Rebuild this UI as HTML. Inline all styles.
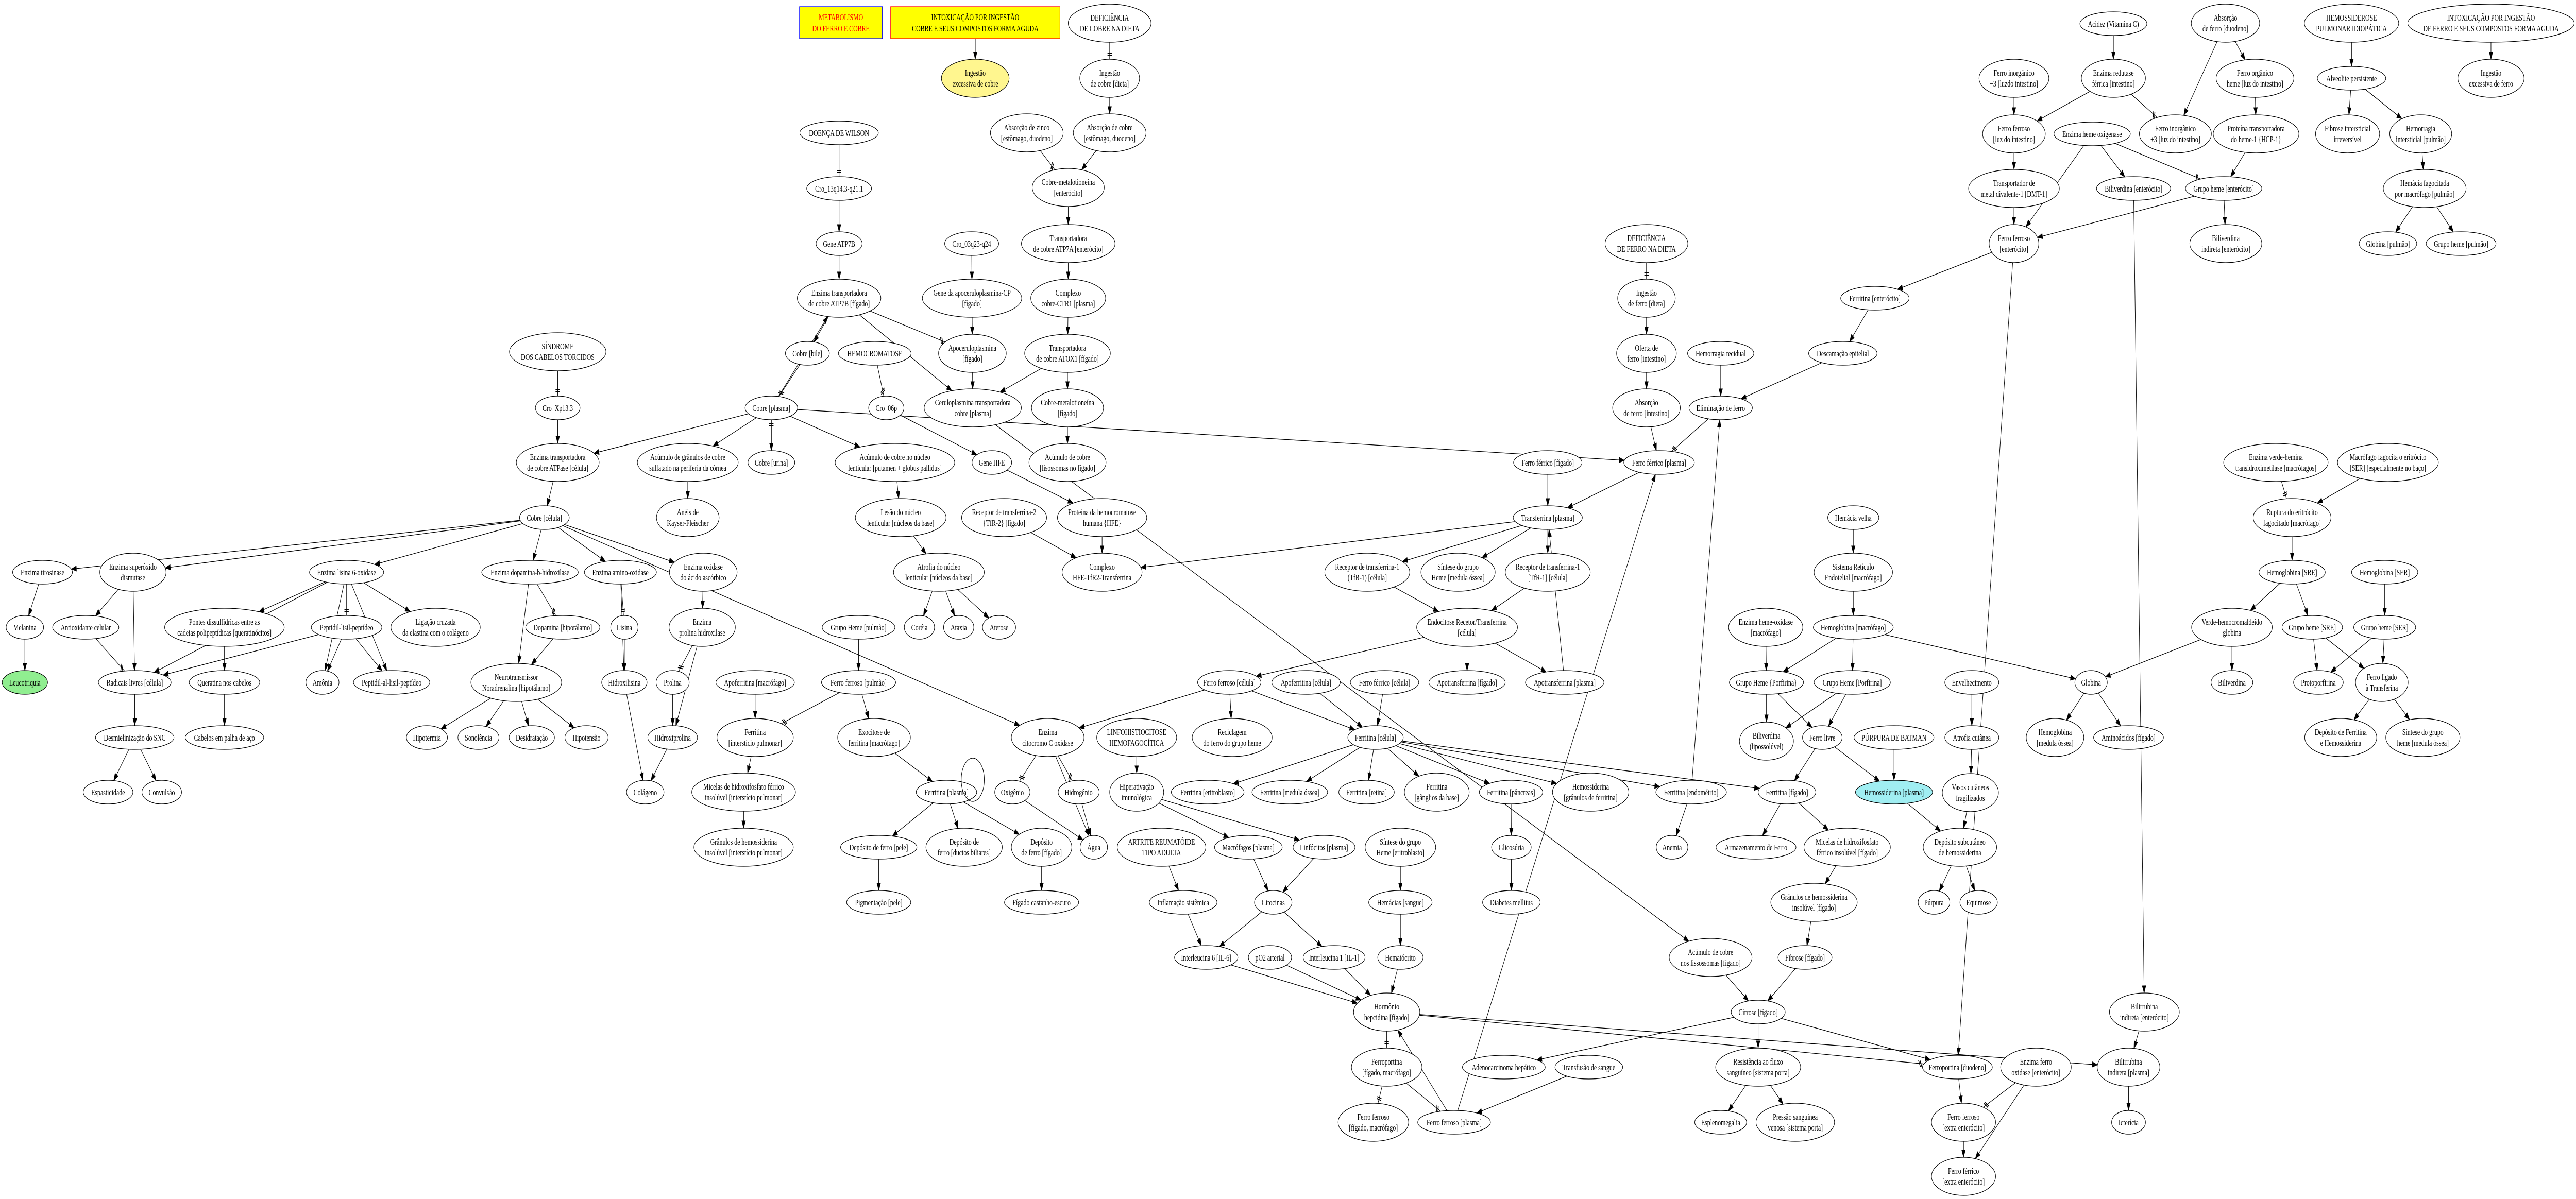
<!DOCTYPE html>
<html><head><meta charset="utf-8">
<style>
html,body{margin:0;padding:0;background:#fff;overflow:hidden;width:100%;height:100%;}
svg{display:block;width:100vw;height:100vh;}
text{font-family:"Liberation Serif","DejaVu Serif",serif;font-size:17px;fill:#000;text-anchor:middle;}
ellipse{fill:#fff;stroke:#000;stroke-width:1.3;}
</style></head>
<body>
<svg id="s" viewBox="0 0 7150 2328" preserveAspectRatio="none" xmlns="http://www.w3.org/2000/svg">
<rect width="7150" height="2328" fill="#fff"/>
<g id="edges"></g>
<g id="nodes">
<rect x="2219" y="13" width="230" height="62" fill="#ffff00" stroke="#0000ff" stroke-width="1.3"/>
<text x="2334" y="39" style="fill:#ff0000">METABOLISMO</text><text x="2334" y="61" style="fill:#ff0000">DO FERRO E COBRE</text>
<rect x="2472" y="13" width="470" height="62" fill="#ffff00" stroke="#ff0000" stroke-width="1.3"/>
<text x="2707" y="39">INTOXICAÇÃO POR INGESTÃO</text><text x="2707" y="61">COBRE E SEUS COMPOSTOS FORMA AGUDA</text>

<g id="sind"><ellipse cx="1548" cy="683" rx="134" ry="37"/><text x="1548" y="678">SÍNDROME</text><text x="1548" y="699">DOS CABELOS TORCIDOS</text></g>
<g id="xp"><ellipse cx="1548" cy="792" rx="62" ry="23"/><text x="1548" y="798">Cro_Xp13.3</text></g>
<g id="atpc"><ellipse cx="1548" cy="898" rx="115" ry="37"/><text x="1548" y="893">Enzima transportadora</text><text x="1548" y="914">de cobre ATPase [célula]</text></g>
<g id="cc"><ellipse cx="1511" cy="1005" rx="69" ry="23"/><text x="1511" y="1011">Cobre [célula]</text></g>
<g id="tir"><ellipse cx="118" cy="1111" rx="83" ry="23"/><text x="118" y="1117">Enzima tirosinase</text></g>
<g id="sod"><ellipse cx="369" cy="1111" rx="92" ry="37"/><text x="369" y="1106">Enzima superóxido</text><text x="369" y="1127">dismutase</text></g>
<g id="lis6"><ellipse cx="962" cy="1111" rx="103" ry="23"/><text x="962" y="1117">Enzima lisina 6-oxidase</text></g>
<g id="dbh"><ellipse cx="1471" cy="1111" rx="134" ry="23"/><text x="1471" y="1117">Enzima dopamina-b-hidroxilase</text></g>
<g id="amo"><ellipse cx="1722" cy="1111" rx="100" ry="23"/><text x="1722" y="1117">Enzima amino-oxidase</text></g>

<g id="defc"><ellipse cx="3080" cy="45" rx="115" ry="37"/><text x="3080" y="40">DEFICIÊNCIA</text><text x="3080" y="61">DE COBRE NA DIETA</text></g>
<g id="iec"><ellipse cx="2707" cy="152" rx="94" ry="37" style="fill:#fff68f"/><text x="2707" y="147">Ingestão</text><text x="2707" y="168">excessiva de cobre</text></g>
<g id="ic"><ellipse cx="3080" cy="152" rx="83" ry="37"/><text x="3080" y="147">Ingestão</text><text x="3080" y="168">de cobre [dieta]</text></g>
<g id="wil"><ellipse cx="2329" cy="258" rx="109" ry="23"/><text x="2329" y="264">DOENÇA DE WILSON</text></g>
<g id="absz"><ellipse cx="2850" cy="258" rx="101" ry="37"/><text x="2850" y="253">Absorção de zinco</text><text x="2850" y="274">[estômago, duodeno]</text></g>
<g id="absc"><ellipse cx="3080" cy="258" rx="101" ry="37"/><text x="3080" y="253">Absorção de cobre</text><text x="3080" y="274">[estômago, duodeno]</text></g>
<g id="c13"><ellipse cx="2329" cy="366" rx="90" ry="23"/><text x="2329" y="372">Cro_13q14.3-q21.1</text></g>
<g id="cumt"><ellipse cx="2965" cy="364" rx="100" ry="37"/><text x="2965" y="359">Cobre-metalotioneína</text><text x="2965" y="380">[enterócito]</text></g>
<g id="atpg"><ellipse cx="2329" cy="473" rx="64" ry="23"/><text x="2329" y="479">Gene ATP7B</text></g>
<g id="c03"><ellipse cx="2697" cy="473" rx="75" ry="23"/><text x="2697" y="479">Cro_03q23-q24</text></g>
<g id="atp7a"><ellipse cx="2965" cy="473" rx="130" ry="37"/><text x="2965" y="468">Transportadora</text><text x="2965" y="489">de cobre ATP7A [enterócito]</text></g>
<g id="atp7b"><ellipse cx="2329" cy="579" rx="116" ry="37"/><text x="2329" y="574">Enzima transportadora</text><text x="2329" y="595">de cobre ATP7B [fígado]</text></g>
<g id="gcp"><ellipse cx="2698" cy="579" rx="138" ry="37"/><text x="2698" y="574">Gene da apoceruloplasmina-CP</text><text x="2698" y="595">[fígado]</text></g>
<g id="ctr1"><ellipse cx="2965" cy="579" rx="104" ry="37"/><text x="2965" y="574">Complexo</text><text x="2965" y="595">cobre-CTR1 [plasma]</text></g>
<g id="cbile"><ellipse cx="2241" cy="686" rx="61" ry="23"/><text x="2241" y="692">Cobre [bile]</text></g>
<g id="hemo"><ellipse cx="2428" cy="686" rx="101" ry="23"/><text x="2428" y="692">HEMOCROMATOSE</text></g>
<g id="apoc"><ellipse cx="2699" cy="686" rx="94" ry="37"/><text x="2699" y="681">Apoceruloplasmina</text><text x="2699" y="702">[fígado]</text></g>
<g id="atox"><ellipse cx="2963" cy="686" rx="119" ry="37"/><text x="2963" y="681">Transportadora</text><text x="2963" y="702">de cobre ATOX1 [fígado]</text></g>
<g id="cpl"><ellipse cx="2141" cy="792" rx="73" ry="23"/><text x="2141" y="798">Cobre [plasma]</text></g>
<g id="c06"><ellipse cx="2460" cy="792" rx="49" ry="23"/><text x="2460" y="798">Cro_06p</text></g>
<g id="cer"><ellipse cx="2700" cy="792" rx="135" ry="37"/><text x="2700" y="787">Ceruloplasmina transportadora</text><text x="2700" y="808">cobre [plasma]</text></g>
<g id="cumtf"><ellipse cx="2963" cy="792" rx="100" ry="37"/><text x="2963" y="787">Cobre-metalotioneína</text><text x="2963" y="808">[fígado]</text></g>
<g id="corn"><ellipse cx="1909" cy="898" rx="140" ry="37"/><text x="1909" y="893">Acúmulo de grânulos de cobre</text><text x="1909" y="914">sulfatado na periferia da córnea</text></g>
<g id="cur"><ellipse cx="2141" cy="898" rx="65" ry="23"/><text x="2141" y="904">Cobre [urina]</text></g>
<g id="alent"><ellipse cx="2484" cy="898" rx="166" ry="37"/><text x="2484" y="893">Acúmulo de cobre no núcleo</text><text x="2484" y="914">lenticular [putamen + globus pallidus]</text></g>
<g id="hfe"><ellipse cx="2753" cy="898" rx="55" ry="23"/><text x="2753" y="904">Gene HFE</text></g>
<g id="aliso"><ellipse cx="2963" cy="898" rx="107" ry="37"/><text x="2963" y="893">Acúmulo de cobre</text><text x="2963" y="914">[lisossomas no fígado]</text></g>
<g id="kf"><ellipse cx="1909" cy="1005" rx="87" ry="37"/><text x="1909" y="1000">Anéis de</text><text x="1909" y="1021">Kayser-Fleischer</text></g>
<g id="lesao"><ellipse cx="2500" cy="1005" rx="126" ry="37"/><text x="2500" y="1000">Lesão do núcleo</text><text x="2500" y="1021">lenticular [núcleos da base]</text></g>
<g id="tfr2"><ellipse cx="2787" cy="1005" rx="118" ry="37"/><text x="2787" y="1000">Receptor de transferrina-2</text><text x="2787" y="1021">{TfR-2} [fígado]</text></g>
<g id="hfep"><ellipse cx="3059" cy="1005" rx="124" ry="37"/><text x="3059" y="1000">Proteína da hemocromatose</text><text x="3059" y="1021">humana {HFE}</text></g>
<g id="oxasc"><ellipse cx="1952" cy="1111" rx="94" ry="37"/><text x="1952" y="1106">Enzima oxidase</text><text x="1952" y="1127">do ácido ascórbico</text></g>
<g id="atrof"><ellipse cx="2606" cy="1111" rx="126" ry="37"/><text x="2606" y="1106">Atrofia do núcleo</text><text x="2606" y="1127">lenticular [núcleos da base]</text></g>
<g id="chfe"><ellipse cx="3059" cy="1111" rx="111" ry="37"/><text x="3059" y="1106">Complexo</text><text x="3059" y="1127">HFE-TfR2-Transferrina</text></g>

<g id="deff"><ellipse cx="4570" cy="473" rx="115" ry="37"/><text x="4570" y="468">DEFICIÊNCIA</text><text x="4570" y="489">DE FERRO NA DIETA</text></g>
<g id="if"><ellipse cx="4570" cy="579" rx="80" ry="37"/><text x="4570" y="574">Ingestão</text><text x="4570" y="595">de ferro [dieta]</text></g>
<g id="fent"><ellipse cx="5204" cy="579" rx="95" ry="23"/><text x="5204" y="585">Ferritina [enterócito]</text></g>
<g id="ofer"><ellipse cx="4570" cy="686" rx="83" ry="37"/><text x="4570" y="681">Oferta de</text><text x="4570" y="702">ferro [intestino]</text></g>
<g id="hemt"><ellipse cx="4776" cy="686" rx="92" ry="23"/><text x="4776" y="692">Hemorragia tecidual</text></g>
<g id="desc"><ellipse cx="5115" cy="686" rx="95" ry="23"/><text x="5115" y="692">Descamação epitelial</text></g>
<g id="absf"><ellipse cx="4570" cy="792" rx="94" ry="37"/><text x="4570" y="787">Absorção</text><text x="4570" y="808">de ferro [intestino]</text></g>
<g id="elim"><ellipse cx="4776" cy="792" rx="88" ry="23"/><text x="4776" y="798">Eliminação de ferro</text></g>
<g id="fffig"><ellipse cx="4296" cy="898" rx="95" ry="23"/><text x="4296" y="904">Ferro férrico [fígado]</text></g>
<g id="ffpl"><ellipse cx="4605" cy="898" rx="98" ry="23"/><text x="4605" y="904">Ferro férrico [plasma]</text></g>
<g id="tf"><ellipse cx="4296" cy="1005" rx="96" ry="23"/><text x="4296" y="1011">Transferrina [plasma]</text></g>
<g id="hvel"><ellipse cx="5144" cy="1005" rx="71" ry="23"/><text x="5144" y="1011">Hemácia velha</text></g>
<g id="tfr1a"><ellipse cx="3795" cy="1111" rx="118" ry="37"/><text x="3795" y="1106">Receptor de transferrina-1</text><text x="3795" y="1127">(TfR-1) [célula]</text></g>
<g id="sheme"><ellipse cx="4047" cy="1111" rx="103" ry="37"/><text x="4047" y="1106">Síntese do grupo</text><text x="4047" y="1127">Heme [medula óssea]</text></g>
<g id="tfr1b"><ellipse cx="4296" cy="1111" rx="118" ry="37"/><text x="4296" y="1106">Receptor de transferrina-1</text><text x="4296" y="1127">[TfR-1] [célula]</text></g>
<g id="sre"><ellipse cx="5144" cy="1111" rx="109" ry="37"/><text x="5144" y="1106">Sistema Retículo</text><text x="5144" y="1127">Endotelial [macrófago]</text></g>

<g id="acid"><ellipse cx="5866" cy="46" rx="93" ry="23"/><text x="5866" y="52">Acidez (Vitamina C)</text></g>
<g id="absd"><ellipse cx="6177" cy="45" rx="95" ry="37"/><text x="6177" y="40">Absorção</text><text x="6177" y="61">de ferro [duodeno]</text></g>
<g id="hpi"><ellipse cx="6527" cy="45" rx="131" ry="37"/><text x="6527" y="40">HEMOSSIDEROSE</text><text x="6527" y="61">PULMONAR IDIOPÁTICA</text></g>
<g id="intf"><ellipse cx="6914" cy="45" rx="231" ry="37"/><text x="6914" y="40">INTOXICAÇÃO POR INGESTÃO</text><text x="6914" y="61">DE FERRO E SEUS COMPOSTOS FORMA AGUDA</text></g>
<g id="fim3"><ellipse cx="5590" cy="152" rx="97" ry="37"/><text x="5590" y="147">Ferro inorgânico</text><text x="5590" y="168">−3 [luzdo  intestino]</text></g>
<g id="red"><ellipse cx="5866" cy="152" rx="89" ry="37"/><text x="5866" y="147">Enzima redutase</text><text x="5866" y="168">férrica [intestino]</text></g>
<g id="forg"><ellipse cx="6259" cy="152" rx="108" ry="37"/><text x="6259" y="147">Ferro orgânico</text><text x="6259" y="168">heme [luz do intestino]</text></g>
<g id="alv"><ellipse cx="6527" cy="152" rx="95" ry="23"/><text x="6527" y="158">Alveolite persistente</text></g>
<g id="ief"><ellipse cx="6914" cy="152" rx="92" ry="37"/><text x="6914" y="147">Ingestão</text><text x="6914" y="168">excessiva de ferro</text></g>
<g id="ffluz"><ellipse cx="5590" cy="260" rx="87" ry="37"/><text x="5590" y="255">Ferro ferroso</text><text x="5590" y="276">[luz do intestino]</text></g>
<g id="hox"><ellipse cx="5807" cy="260" rx="106" ry="23"/><text x="5807" y="266">Enzima heme oxigenase</text></g>
<g id="fip3"><ellipse cx="6038" cy="260" rx="100" ry="37"/><text x="6038" y="255">Ferro inorgânico</text><text x="6038" y="276">+3 [luz do intestino]</text></g>
<g id="hcp"><ellipse cx="6262" cy="260" rx="119" ry="37"/><text x="6262" y="255">Proteína transportadora</text><text x="6262" y="276">do heme-1 {HCP-1}</text></g>
<g id="fibi"><ellipse cx="6516" cy="260" rx="89" ry="37"/><text x="6516" y="255">Fibrose intersticial</text><text x="6516" y="276">irreversível</text></g>
<g id="hemi"><ellipse cx="6719" cy="260" rx="86" ry="37"/><text x="6719" y="255">Hemorragia</text><text x="6719" y="276">intersticial [pulmão]</text></g>
<g id="dmt"><ellipse cx="5590" cy="366" rx="126" ry="37"/><text x="5590" y="361">Transportador de</text><text x="5590" y="382">metal divalente-1 [DMT-1]</text></g>
<g id="bilent"><ellipse cx="5922" cy="366" rx="103" ry="23"/><text x="5922" y="372">Biliverdina [enterócito]</text></g>
<g id="ghent"><ellipse cx="6172" cy="366" rx="106" ry="23"/><text x="6172" y="372">Grupo heme [enterócito]</text></g>
<g id="hfag"><ellipse cx="6730" cy="366" rx="115" ry="37"/><text x="6730" y="361">Hemácia fagocitada</text><text x="6730" y="382">por macrófago [pulmão]</text></g>
<g id="ffent"><ellipse cx="5590" cy="473" rx="69" ry="37"/><text x="5590" y="468">Ferro ferroso</text><text x="5590" y="489">[enterócito]</text></g>
<g id="bilind"><ellipse cx="6178" cy="473" rx="100" ry="37"/><text x="6178" y="468">Biliverdina</text><text x="6178" y="489">indireta [enterócito]</text></g>
<g id="globp"><ellipse cx="6628" cy="473" rx="80" ry="23"/><text x="6628" y="479">Globina [pulmão]</text></g>
<g id="ghp"><ellipse cx="6831" cy="473" rx="97" ry="23"/><text x="6831" y="479">Grupo heme [pulmão]</text></g>
<g id="vhem"><ellipse cx="6317" cy="898" rx="145" ry="37"/><text x="6317" y="893">Enzima verde-hemina</text><text x="6317" y="914">transidroximetilase [macrófagos]</text></g>
<g id="mfag"><ellipse cx="6628" cy="898" rx="140" ry="37"/><text x="6628" y="893">Macrófago fagocita o eritrócito</text><text x="6628" y="914">[SER] [especialmente no baço]</text></g>
<g id="rupt"><ellipse cx="6362" cy="1005" rx="108" ry="37"/><text x="6362" y="1000">Ruptura do eritrócito</text><text x="6362" y="1021">fagocitado [macrófago]</text></g>
<g id="hbsre"><ellipse cx="6362" cy="1111" rx="92" ry="23"/><text x="6362" y="1117">Hemoglobina [SRE]</text></g>
<g id="hbser"><ellipse cx="6619" cy="1111" rx="92" ry="23"/><text x="6619" y="1117">Hemoglobina [SER]</text></g>

<g id="mel"><ellipse cx="69" cy="1218" rx="52" ry="23"/><text x="69" y="1224">Melanina</text></g>
<g id="antiox"><ellipse cx="238" cy="1218" rx="92" ry="23"/><text x="238" y="1224">Antioxidante celular</text></g>
<g id="pontes"><ellipse cx="623" cy="1218" rx="166" ry="37"/><text x="623" y="1213">Pontes dissulfídricas entre as</text><text x="623" y="1234">cadeias polipeptídicas [queratinócitos]</text></g>
<g id="pll"><ellipse cx="962" cy="1218" rx="98" ry="23"/><text x="962" y="1224">Peptidil-lisil-peptídeo</text></g>
<g id="lig"><ellipse cx="1209" cy="1218" rx="124" ry="37"/><text x="1209" y="1213">Ligação cruzada</text><text x="1209" y="1234">da elastina com o colágeno</text></g>
<g id="dopa"><ellipse cx="1562" cy="1218" rx="103" ry="23"/><text x="1562" y="1224">Dopamina [hipotálamo]</text></g>
<g id="lisina"><ellipse cx="1733" cy="1218" rx="38" ry="23"/><text x="1733" y="1224">Lisina</text></g>
<g id="leuco"><ellipse cx="69" cy="1325" rx="63" ry="23" style="fill:#90ee90"/><text x="69" y="1331">Leucotriquia</text></g>
<g id="rad"><ellipse cx="374" cy="1325" rx="101" ry="23"/><text x="374" y="1331">Radicais livres [célula]</text></g>
<g id="quer"><ellipse cx="623" cy="1325" rx="98" ry="23"/><text x="623" y="1331">Queratina nos cabelos</text></g>
<g id="amon"><ellipse cx="895" cy="1325" rx="46" ry="23"/><text x="895" y="1331">Amônia</text></g>
<g id="pal"><ellipse cx="1087" cy="1325" rx="106" ry="23"/><text x="1087" y="1331">Peptidil-al-lisil-peptídeo</text></g>
<g id="neuro"><ellipse cx="1433" cy="1325" rx="126" ry="37"/><text x="1433" y="1320">Neurotransmissor</text><text x="1433" y="1341">Noradrenalina [hipotálamo]</text></g>
<g id="hlis"><ellipse cx="1733" cy="1325" rx="63" ry="23"/><text x="1733" y="1331">Hidroxilisina</text></g>
<g id="desm"><ellipse cx="374" cy="1432" rx="109" ry="23"/><text x="374" y="1438">Desmielinização do SNC</text></g>
<g id="cab"><ellipse cx="623" cy="1432" rx="109" ry="23"/><text x="623" y="1438">Cabelos em palha de aço</text></g>
<g id="hipot"><ellipse cx="1185" cy="1432" rx="57" ry="23"/><text x="1185" y="1438">Hipotermia</text></g>
<g id="sono"><ellipse cx="1328" cy="1432" rx="57" ry="23"/><text x="1328" y="1438">Sonolência</text></g>
<g id="desid"><ellipse cx="1476" cy="1432" rx="63" ry="23"/><text x="1476" y="1438">Desidratação</text></g>
<g id="hipote"><ellipse cx="1628" cy="1432" rx="60" ry="23"/><text x="1628" y="1438">Hipotensão</text></g>
<g id="esp"><ellipse cx="300" cy="1538" rx="69" ry="23"/><text x="300" y="1544">Espasticidade</text></g>
<g id="conv"><ellipse cx="449" cy="1538" rx="55" ry="23"/><text x="449" y="1544">Convulsão</text></g>
<g id="colag"><ellipse cx="1791" cy="1538" rx="52" ry="23"/><text x="1791" y="1544">Colágeno</text></g>

<g id="cor"><ellipse cx="2552" cy="1218" rx="42" ry="23"/><text x="2552" y="1224">Coréia</text></g>
<g id="atax"><ellipse cx="2661" cy="1218" rx="42" ry="23"/><text x="2661" y="1224">Ataxia</text></g>
<g id="atet"><ellipse cx="2773" cy="1218" rx="46" ry="23"/><text x="2773" y="1224">Atetose</text></g>
<g id="prh"><ellipse cx="1949" cy="1218" rx="92" ry="37"/><text x="1949" y="1213">Enzima</text><text x="1949" y="1234">prolina hidroxilase</text></g>
<g id="ghpul"><ellipse cx="2383" cy="1218" rx="101" ry="23"/><text x="2383" y="1224">Grupo Heme [pulmão]</text></g>
<g id="prol"><ellipse cx="1867" cy="1325" rx="46" ry="23"/><text x="1867" y="1331">Prolina</text></g>
<g id="apom"><ellipse cx="2096" cy="1325" rx="109" ry="23"/><text x="2096" y="1331">Apoferritina [macrófago]</text></g>
<g id="ffpul"><ellipse cx="2383" cy="1325" rx="103" ry="23"/><text x="2383" y="1331">Ferro ferroso [pulmão]</text></g>
<g id="ffcel"><ellipse cx="3412" cy="1325" rx="88" ry="23"/><text x="3412" y="1331">Ferro ferroso [célula]</text></g>
<g id="apocel"><ellipse cx="3625" cy="1325" rx="95" ry="23"/><text x="3625" y="1331">Apoferritina [célula]</text></g>
<g id="hpro"><ellipse cx="1867" cy="1432" rx="69" ry="23"/><text x="1867" y="1438">Hidroxiprolina</text></g>
<g id="fint"><ellipse cx="2096" cy="1432" rx="106" ry="37"/><text x="2096" y="1427">Ferritina</text><text x="2096" y="1448">[interstício pulmonar]</text></g>
<g id="exo"><ellipse cx="2426" cy="1432" rx="101" ry="37"/><text x="2426" y="1427">Exocitose de</text><text x="2426" y="1448">ferritina [macrófago]</text></g>
<g id="cito"><ellipse cx="2908" cy="1432" rx="101" ry="37"/><text x="2908" y="1427">Enzima</text><text x="2908" y="1448">citocromo C oxidase</text></g>
<g id="linfo"><ellipse cx="3155" cy="1432" rx="111" ry="37"/><text x="3155" y="1427">LINFOHISTIOCITOSE</text><text x="3155" y="1448">HEMOFAGOCÍTICA</text></g>
<g id="recic"><ellipse cx="3420" cy="1432" rx="111" ry="37"/><text x="3420" y="1427">Reciclagem</text><text x="3420" y="1448">do ferro do grupo heme</text></g>
<g id="mic"><ellipse cx="2064" cy="1538" rx="144" ry="37"/><text x="2064" y="1533">Micelas de hidroxifosfato férrico</text><text x="2064" y="1554">insolúvel [interstício pulmonar]</text></g>
<g id="fpl"><ellipse cx="2627" cy="1538" rx="84" ry="23"/><text x="2627" y="1544">Ferritina [plasma]</text></g>
<ellipse cx="2700" cy="1514" rx="32" ry="42" style="fill:none"/>
<g id="oxi"><ellipse cx="2810" cy="1538" rx="49" ry="23"/><text x="2810" y="1544">Oxigênio</text></g>
<g id="hid"><ellipse cx="2994" cy="1538" rx="57" ry="23"/><text x="2994" y="1544">Hidrogênio</text></g>
<g id="hiper"><ellipse cx="3155" cy="1538" rx="75" ry="37"/><text x="3155" y="1533">Hiperativação</text><text x="3155" y="1554">imunológica</text></g>
<g id="feri"><ellipse cx="3352" cy="1538" rx="101" ry="23"/><text x="3352" y="1544">Ferritina [eritroblasto]</text></g>
<g id="fmed"><ellipse cx="3580" cy="1538" rx="105" ry="23"/><text x="3580" y="1544">Ferritina [medula óssea]</text></g>
<g id="grn"><ellipse cx="2064" cy="1645" rx="138" ry="37"/><text x="2064" y="1640">Grânulos de hemossiderina</text><text x="2064" y="1661">insolúvel [interstício pulmonar]</text></g>
<g id="dpele"><ellipse cx="2439" cy="1645" rx="106" ry="23"/><text x="2439" y="1651">Depósito de ferro [pele]</text></g>
<g id="dduct"><ellipse cx="2676" cy="1645" rx="106" ry="37"/><text x="2676" y="1640">Depósito de</text><text x="2676" y="1661">ferro [ductos biliares]</text></g>
<g id="dfig"><ellipse cx="2891" cy="1645" rx="84" ry="37"/><text x="2891" y="1640">Depósito</text><text x="2891" y="1661">de ferro [fígado]</text></g>
<g id="agua"><ellipse cx="3036" cy="1645" rx="38" ry="23"/><text x="3036" y="1651">Água</text></g>
<g id="art"><ellipse cx="3224" cy="1645" rx="123" ry="37"/><text x="3224" y="1640">ARTRITE REUMATÓIDE</text><text x="3224" y="1661">TIPO ADULTA</text></g>
<g id="mac"><ellipse cx="3465" cy="1645" rx="94" ry="23"/><text x="3465" y="1651">Macrófagos [plasma]</text></g>
<g id="linf"><ellipse cx="3675" cy="1645" rx="86" ry="23"/><text x="3675" y="1651">Linfócitos [plasma]</text></g>
<g id="pig"><ellipse cx="2439" cy="1752" rx="89" ry="23"/><text x="2439" y="1758">Pigmentação [pele]</text></g>
<g id="fcast"><ellipse cx="2891" cy="1752" rx="103" ry="23"/><text x="2891" y="1758">Fígado castanho-escuro</text></g>
<g id="infl"><ellipse cx="3284" cy="1752" rx="94" ry="23"/><text x="3284" y="1758">Inflamação sistêmica</text></g>
<g id="citoc"><ellipse cx="3534" cy="1752" rx="52" ry="23"/><text x="3534" y="1758">Citocinas</text></g>
<g id="il6"><ellipse cx="3348" cy="1859" rx="88" ry="23"/><text x="3348" y="1865">Interleucina 6 [IL-6]</text></g>
<g id="po2"><ellipse cx="3525" cy="1859" rx="60" ry="23"/><text x="3525" y="1865">pO2 arterial</text></g>

<g id="endo"><ellipse cx="4072" cy="1218" rx="140" ry="37"/><text x="4072" y="1213">Endocitose Recetor/Transferrina</text><text x="4072" y="1234">[célula]</text></g>
<g id="hoxm"><ellipse cx="4901" cy="1218" rx="103" ry="37"/><text x="4901" y="1213">Enzima heme-oxidase</text><text x="4901" y="1234">[macrófago]</text></g>
<g id="hbm"><ellipse cx="5144" cy="1218" rx="111" ry="23"/><text x="5144" y="1224">Hemoglobina [macrófago]</text></g>
<g id="ffcel2"><ellipse cx="3843" cy="1325" rx="95" ry="23"/><text x="3843" y="1331">Ferro férrico [célula]</text></g>
<g id="apof"><ellipse cx="4072" cy="1325" rx="106" ry="23"/><text x="4072" y="1331">Apotransferrina [fígado]</text></g>
<g id="apop"><ellipse cx="4343" cy="1325" rx="109" ry="23"/><text x="4343" y="1331">Apotransferrina [plasma]</text></g>
<g id="ghp1"><ellipse cx="4903" cy="1325" rx="103" ry="23"/><text x="4903" y="1331">Grupo Heme {Porfirina}</text></g>
<g id="ghp2"><ellipse cx="5141" cy="1325" rx="106" ry="23"/><text x="5141" y="1331">Grupo Heme [Porfirina]</text></g>
<g id="fcel"><ellipse cx="3818" cy="1432" rx="77" ry="23"/><text x="3818" y="1438">Ferritina [célula]</text></g>
<g id="bill"><ellipse cx="4903" cy="1439" rx="75" ry="37"/><text x="4903" y="1434">Biliverdina</text><text x="4903" y="1455">(lipossolúvel)</text></g>
<g id="flivre"><ellipse cx="5058" cy="1432" rx="55" ry="23"/><text x="5058" y="1438">Ferro livre</text></g>
<g id="batman"><ellipse cx="5257" cy="1432" rx="111" ry="23"/><text x="5257" y="1438">PÚRPURA DE BATMAN</text></g>
<g id="fret"><ellipse cx="3793" cy="1538" rx="77" ry="23"/><text x="3793" y="1544">Ferritina [retina]</text></g>
<g id="fgang"><ellipse cx="3988" cy="1538" rx="90" ry="37"/><text x="3988" y="1533">Ferritina</text><text x="3988" y="1554">[gânglios da base]</text></g>
<g id="fpanc"><ellipse cx="4194" cy="1538" rx="88" ry="23"/><text x="4194" y="1544">Ferritina [pâncreas]</text></g>
<g id="hgran"><ellipse cx="4415" cy="1538" rx="106" ry="37"/><text x="4415" y="1533">Hemossiderina</text><text x="4415" y="1554">[grânulos de ferritina]</text></g>
<g id="fendo"><ellipse cx="4694" cy="1538" rx="98" ry="23"/><text x="4694" y="1544">Ferritina [endométrio]</text></g>
<g id="ffig"><ellipse cx="4960" cy="1538" rx="80" ry="23"/><text x="4960" y="1544">Ferritina [fígado]</text></g>
<g id="hpl"><ellipse cx="5257" cy="1538" rx="107" ry="23" style="fill:#a0eef2"/><text x="5257" y="1544">Hemossiderina [plasma]</text></g>
<g id="sher"><ellipse cx="3887" cy="1645" rx="98" ry="37"/><text x="3887" y="1640">Síntese do grupo</text><text x="3887" y="1661">Heme [eritroblasto]</text></g>
<g id="glic"><ellipse cx="4195" cy="1645" rx="55" ry="23"/><text x="4195" y="1651">Glicosúria</text></g>
<g id="anem"><ellipse cx="4641" cy="1645" rx="44" ry="23"/><text x="4641" y="1651">Anemia</text></g>
<g id="arm"><ellipse cx="4874" cy="1645" rx="111" ry="23"/><text x="4874" y="1651">Armazenamento de Ferro</text></g>
<g id="micf"><ellipse cx="5127" cy="1645" rx="120" ry="37"/><text x="5127" y="1640">Micelas de hidroxifosfato</text><text x="5127" y="1661">férrico insolúvel [fígado]</text></g>
<g id="dsub"><ellipse cx="5440" cy="1645" rx="102" ry="37"/><text x="5440" y="1640">Depósito subcutâneo</text><text x="5440" y="1661">de hemossiderina</text></g>
<g id="hem"><ellipse cx="3887" cy="1752" rx="88" ry="23"/><text x="3887" y="1758">Hemácias [sangue]</text></g>
<g id="diab"><ellipse cx="4195" cy="1752" rx="80" ry="23"/><text x="4195" y="1758">Diabetes mellitus</text></g>
<g id="grnf"><ellipse cx="5035" cy="1752" rx="120" ry="37"/><text x="5035" y="1747">Grânulos de hemossiderina</text><text x="5035" y="1768">insolúvel [fígado]</text></g>
<g id="purp"><ellipse cx="5368" cy="1752" rx="44" ry="23"/><text x="5368" y="1758">Púrpura</text></g>
<g id="equi"><ellipse cx="5492" cy="1752" rx="52" ry="23"/><text x="5492" y="1758">Equimose</text></g>
<g id="il1"><ellipse cx="3703" cy="1859" rx="86" ry="23"/><text x="3703" y="1865">Interleucina 1 [IL-1]</text></g>
<g id="hct"><ellipse cx="3887" cy="1859" rx="63" ry="23"/><text x="3887" y="1865">Hematócrito</text></g>
<g id="alis2"><ellipse cx="4748" cy="1859" rx="115" ry="37"/><text x="4748" y="1854">Acúmulo de cobre</text><text x="4748" y="1875">nos lissossomas [fígado]</text></g>
<g id="fibf"><ellipse cx="5010" cy="1859" rx="75" ry="23"/><text x="5010" y="1865">Fibrose [fígado]</text></g>
<g id="hep"><ellipse cx="3849" cy="1965" rx="92" ry="37"/><text x="3849" y="1960">Hormônio</text><text x="3849" y="1981">hepcidina [fígado]</text></g>
<g id="cirr"><ellipse cx="4880" cy="1965" rx="75" ry="23"/><text x="4880" y="1971">Cirrose [fígado]</text></g>
<g id="fpt"><ellipse cx="3849" cy="2072" rx="98" ry="37"/><text x="3849" y="2067">Ferroportina</text><text x="3849" y="2088">[fígado, macrófago]</text></g>
<g id="adeno"><ellipse cx="4174" cy="2072" rx="115" ry="23"/><text x="4174" y="2078">Adenocarcinoma hepático</text></g>
<g id="transf"><ellipse cx="4410" cy="2072" rx="94" ry="23"/><text x="4410" y="2078">Transfusão de sangue</text></g>
<g id="resist"><ellipse cx="4880" cy="2072" rx="118" ry="37"/><text x="4880" y="2067">Resistência ao fluxo</text><text x="4880" y="2088">sanguíneo [sistema porta]</text></g>
<g id="fptd"><ellipse cx="5433" cy="2072" rx="97" ry="23"/><text x="5433" y="2078">Ferroportina [duodeno]</text></g>
<g id="feox"><ellipse cx="5651" cy="2072" rx="98" ry="37"/><text x="5651" y="2067">Enzima ferro</text><text x="5651" y="2088">oxidase [enterócito]</text></g>
<g id="bilp"><ellipse cx="5908" cy="2072" rx="87" ry="37"/><text x="5908" y="2067">Bilirrubina</text><text x="5908" y="2088">indireta [plasma]</text></g>
<g id="fffm"><ellipse cx="3812" cy="2179" rx="98" ry="37"/><text x="3812" y="2174">Ferro ferroso</text><text x="3812" y="2195">[fígado, macrófago]</text></g>
<g id="ffp"><ellipse cx="4036" cy="2179" rx="101" ry="23"/><text x="4036" y="2185">Ferro ferroso [plasma]</text></g>
<g id="espl"><ellipse cx="4776" cy="2179" rx="72" ry="23"/><text x="4776" y="2185">Esplenomegalia</text></g>
<g id="press"><ellipse cx="4983" cy="2179" rx="109" ry="37"/><text x="4983" y="2174">Pressão sanguínea</text><text x="4983" y="2195">venosa [sistema porta]</text></g>
<g id="ffext"><ellipse cx="5450" cy="2179" rx="89" ry="37"/><text x="5450" y="2174">Ferro ferroso</text><text x="5450" y="2195">[extra enterócito]</text></g>
<g id="icter"><ellipse cx="5908" cy="2179" rx="47" ry="23"/><text x="5908" y="2185">Icterícia</text></g>
<g id="ffeext"><ellipse cx="5450" cy="2284" rx="89" ry="37"/><text x="5450" y="2279">Ferro férrico</text><text x="5450" y="2300">[extra enterócito]</text></g>

<g id="verde"><ellipse cx="6195" cy="1218" rx="112" ry="37"/><text x="6195" y="1213">Verde-hemocromaldeído</text><text x="6195" y="1234">globina</text></g>
<g id="ghsre"><ellipse cx="6418" cy="1218" rx="84" ry="23"/><text x="6418" y="1224">Grupo heme [SRE]</text></g>
<g id="ghser"><ellipse cx="6619" cy="1218" rx="86" ry="23"/><text x="6619" y="1224">Grupo heme [SER]</text></g>
<g id="env"><ellipse cx="5473" cy="1325" rx="75" ry="23"/><text x="5473" y="1331">Envelhecimento</text></g>
<g id="glob"><ellipse cx="5804" cy="1325" rx="45" ry="23"/><text x="5804" y="1331">Globina</text></g>
<g id="bilv"><ellipse cx="6195" cy="1325" rx="58" ry="23"/><text x="6195" y="1331">Biliverdina</text></g>
<g id="proto"><ellipse cx="6435" cy="1325" rx="69" ry="23"/><text x="6435" y="1331">Protoporfirina</text></g>
<g id="flig"><ellipse cx="6611" cy="1325" rx="73" ry="37"/><text x="6611" y="1320">Ferro ligado</text><text x="6611" y="1341">à Transferina</text></g>
<g id="atc"><ellipse cx="5473" cy="1432" rx="75" ry="23"/><text x="5473" y="1438">Atrofia cutânea</text></g>
<g id="hbmed"><ellipse cx="5704" cy="1432" rx="80" ry="37"/><text x="5704" y="1427">Hemoglobina</text><text x="5704" y="1448">[medula óssea]</text></g>
<g id="amin"><ellipse cx="5908" cy="1432" rx="97" ry="23"/><text x="5908" y="1438">Aminoácidos [fígado]</text></g>
<g id="depf"><ellipse cx="6497" cy="1432" rx="100" ry="37"/><text x="6497" y="1427">Depósito de Ferritina</text><text x="6497" y="1448">e Hemossiderina</text></g>
<g id="sinm"><ellipse cx="6725" cy="1432" rx="103" ry="37"/><text x="6725" y="1427">Síntese do grupo</text><text x="6725" y="1448">heme [medula óssea]</text></g>
<g id="vasos"><ellipse cx="5469" cy="1539" rx="78" ry="37"/><text x="5469" y="1534">Vasos cutâneos</text><text x="5469" y="1555">fragilizados</text></g>
<g id="bile2"><ellipse cx="5952" cy="1965" rx="97" ry="37"/><text x="5952" y="1960">Bilirrubina</text><text x="5952" y="1981">indireta [enterócito]</text></g>
</g>
</svg>
<script>
(function(){
var E="box2>iec defc=ic ic>absc absz/cumt absc>cumt cumt>atp7a atp7a>ctr1 ctr1>atox atox>cumtf atox>cer cumtf>aliso "+
"wil=c13 c13>atpg atpg>atp7b atp7b>cbile atp7b/apoc atp7b>cer cpl>atp7b cbile/cpl c03>gcp gcp>apoc apoc>cer "+
"hemo/c06 c06>hfe hfe>hfep hfep>chfe tfr2>chfe tf>chfe "+
"cpl>corn cpl>cur cur=cpl cpl>alent cpl>atpc cpl>ffpl corn>kf alent>lesao lesao>atrof atrof>cor atrof>atax atrof>atet "+
"sind=xp xp>atpc atpc>cc cc>tir cc>sod cc>lis6 cc>dbh cc>amo cc>oxasc cc>cito "+
"tir>mel mel>leuco sod>antiox sod>rad antiox/rad lis6>pontes lis6=pll lis6>lig lis6>rad lis6>amon lis6>pal pll>amon pll>pal pll>rad pontes>quer quer>cab rad>desm desm>esp desm>conv "+
"dbh/dopa dbh>neuro dopa>neuro neuro>hipot neuro>sono neuro>desid neuro>hipote "+
"amo=lisina amo>hlis lisina>hlis hlis>colag oxasc>prh prh/prol prh>hpro prol>hpro hpro>colag "+
"ghpul>ffpul apom>fint ffpul/fint ffpul>exo fint>mic mic>grn exo>fpl fpl>dpele fpl>dduct fpl>dfig dpele>pig dfig>fcast "+
"cito/oxi cito/hid cito>agua oxi>agua hid>agua ffcel>cito ffcel>recic ffcel>fcel "+
"linfo>hiper hiper>mac hiper>linf art>infl infl>il6 mac>citoc linf>citoc citoc>il6 citoc>il1 il6>hep po2>hep il1>hep "+
"deff=if if>ofer ofer>absf absf>ffpl elim/ffpl hemt>elim desc>elim fent>desc ffent>fent "+
"fffig>tf ffpl>tf tf>sheme tf>tfr1b tf>tfr1a tfr1a>endo tfr1b>endo endo>apof endo>apop endo>ffcel apop>tf "+
"ffcel2>fcel apocel>fcel fcel>fmed fcel>fret fcel>fgang fcel>fpanc fcel>hgran fcel>fendo fcel>ffig fcel>feri fpanc>glic glic>diab fendo>anem ffig>arm ffig>micf micf>grnf grnf>fibf fibf>cirr alis2>cirr cirr>adeno cirr>resist cirr>fptd resist>espl resist>press "+
"sher>hem hem>hct hct>hep hep=fpt hep/fptd fpt=fffm fpt/ffp ffp>hep transf>ffp ffp>ffpl fendo>elim cer>alis2 "+
"hvel>sre sre>hbm hbm>ghp1 hbm>ghp2 hbm>glob hoxm>ghp1 ghp1>bill ghp1>flivre ghp2>bill ghp2>flivre flivre>ffig flivre>hpl batman>hpl hpl>dsub dsub>purp dsub>equi env>atc atc>vasos vasos>dsub "+
"acid>red red>ffluz red/fip3 fim3>ffluz ffluz>dmt dmt>ffent absd>fip3 absd>forg forg>hcp hcp>ghent hox>bilent hox/ghent hox>ffent ghent>ffent ghent>bilind ffent>fptd bilent>bile2 bile2>bilp bilp>icter hep>bilp fptd>ffext feox/ffext feox>ffeext ffext>ffeext "+
"hpi>alv alv>fibi alv>hemi hemi>hfag hfag>globp hfag>ghp intf>ief "+
"vhem=rupt mfag>rupt rupt>hbsre hbsre>verde hbsre>ghsre hbser>ghser verde>glob verde>bilv ghsre>proto ghsre>flig ghser>proto ghser>flig glob>hbmed glob>amin flig>depf flig>sinm";
var NS="http://www.w3.org/2000/svg",G=document.getElementById("edges");
function geo(id){
  if(id==="box2")return {x:2707,y:44,rx:235,ry:31};
  var g=document.getElementById(id);if(!g)return null;var e=g.querySelector("ellipse");
  return {x:+e.getAttribute("cx"),y:+e.getAttribute("cy"),rx:+e.getAttribute("rx"),ry:+e.getAttribute("ry")};
}
function el(t,a){var n=document.createElementNS(NS,t);for(var k in a)n.setAttribute(k,a[k]);G.appendChild(n);return n;}
E.split(" ").forEach(function(s){
  var m=s.match(/^(\w+)([>=\/])(\w+)$/);if(!m)return;
  var A=geo(m[1]),B=geo(m[3]);if(!A||!B)return;
  var dx=B.x-A.x,dy=B.y-A.y,L=Math.sqrt(dx*dx+dy*dy);if(!L)return;
  var t1=1/Math.sqrt(dx*dx/(A.rx*A.rx)+dy*dy/(A.ry*A.ry));
  var t2=1/Math.sqrt(dx*dx/(B.rx*B.rx)+dy*dy/(B.ry*B.ry));
  var sx=A.x+dx*t1,sy=A.y+dy*t1,ex=B.x-dx*t2,ey=B.y-dy*t2;
  var ux=dx/L,uy=dy/L,px=-uy,py=ux;
  if(m[2]===">"){
    var al=14,aw=5;
    el("line",{x1:sx,y1:sy,x2:ex-ux*al,y2:ey-uy*al,stroke:"#000","stroke-width":1.3});
    el("polygon",{points:ex+","+ey+" "+(ex-ux*al+px*aw)+","+(ey-uy*al+py*aw)+" "+(ex-ux*al-px*aw)+","+(ey-uy*al-py*aw),fill:"#000",stroke:"#000"});
  } else {
    el("line",{x1:sx,y1:sy,x2:ex,y2:ey,stroke:"#000","stroke-width":1.3});
    for(var i=0;i<2;i++){
      var d=8+i*4,cx=ex-ux*d,cy=ey-uy*d,w=6;
      var ox=0,oy=0; if(m[2]==="/"){ox=ux*3;oy=uy*3;}
      el("line",{x1:cx+px*w+ox,y1:cy+py*w+oy,x2:cx-px*w-ox,y2:cy-py*w-oy,stroke:"#000","stroke-width":2});
    }
  }
});
})();
</script>
</body></html>
